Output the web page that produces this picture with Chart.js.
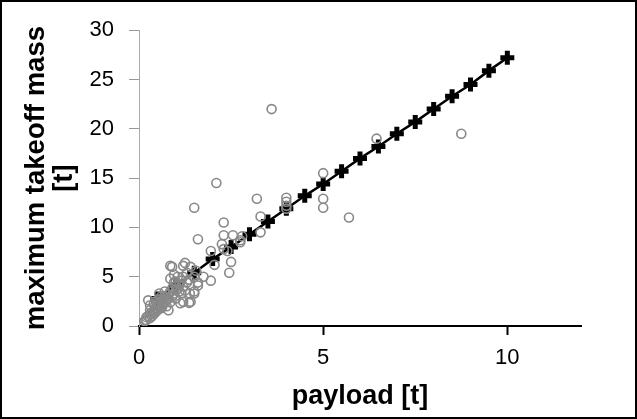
<!DOCTYPE html>
<html>
<head>
    <title>Payload vs maximum takeoff mass</title>
    <script src="https://cdn.jsdelivr.net/npm/chart.js"></script>
    <style>
        body { margin: 0; background: #fff; }
        #frame { width: 637px; height: 419px; box-sizing: border-box; border: 2px solid #000; }
        canvas { display: block; }
    </style>
</head>
<body>
<div id="frame"><canvas id="massChart" width="633" height="415"></canvas></div>
<script>
    // aircraft data (grey circles)
    const payloadT = [
        3.6, 8.75, 6.45, 5, 5, 5, 5.7, 4, 4, 4, 4, 2.1, 1.5, 3.2, 3.3, 2.3, 2.3, 2.55, 2.8, 3.3,
        1.6, 2.75, 2.25, 1.95, 2.4, 2.5, 2.05, 2.45, 1.95, 1.25, 1.55, 0.9, 1.6, 1.35, 0.85, 1.2,
        1.4, 0.85, 1.05, 1.5, 1.5, 1.4, 1.2, 1.15, 0.55, 0.25, 0.3, 0, 0.63, 0.8, 2.3, 2.75, 1.75,
        1.6, 1.38, 1.12, 1.36, 1.5,
        0.1, 0.15, 0.2, 0.2, 0.25, 0.3, 0.3, 0.35, 0.35, 0.4, 0.4, 0.45, 0.45, 0.5, 0.5, 0.5,
        0.55, 0.55, 0.6, 0.6, 0.65, 0.65, 0.7, 0.7, 0.75, 0.75, 0.8, 0.8, 0.85, 0.85, 0.9, 0.9,
        0.95, 1.0, 1.0, 1.0, 1.05, 1.1, 1.1, 1.15, 1.2, 1.25, 1.3, 1.0, 0.95, 0.7, 0.6, 0.4, 0.3,
        0.55, 0.45, 1.2, 1.3, 0.95
    ];
    const mtomT = [
        22, 19.5, 19, 15.5, 12.9, 12, 11, 13, 12.6, 12.2, 11.9, 14.5, 12, 12.9, 11.1, 10.5, 9.2, 9.2, 9.1, 9.5,
        8.8, 8.5, 8.3, 7.6, 7.6, 6.5, 6.2, 5.4, 4.6, 6.4, 5.6, 6.0, 4.4, 4.7, 6.1, 6.1,
        6.0, 4.8, 5.0, 5.0, 3.5, 2.45, 2.45, 3.3, 3.3, 2.6, 2.1, 0, 1.95, 1.6, 7.8, 8.7, 5.0,
        4.1, 3.3, 2.3, 2.35, 3.3,
        0.3, 0.5, 0.6, 0.9, 1.0, 0.8, 1.2, 1.4, 1.0, 1.5, 1.2, 1.8, 1.4, 2.0, 1.6, 2.4,
        1.9, 2.2, 2.5, 1.8, 2.2, 2.8, 2.4, 3.0, 2.6, 2.0, 3.2, 2.8, 3.5, 2.4, 3.0, 3.8,
        3.3, 3.6, 4.0, 2.8, 3.8, 4.2, 3.5, 4.6, 4.0, 3.6, 4.4, 4.5, 4.4, 3.5, 3.0, 2.2, 1.6,
        2.7, 2.5, 5.0, 5.4, 5.2
    ];

    // fitted line (black crosses)
    const fitPayload = [0.5, 1, 1.5, 2, 2.5, 3, 3.5, 4, 4.5, 5, 5.5, 6, 6.5, 7, 7.5, 8, 8.5, 9, 9.5, 10];
    const fitMtom = [2.8, 4.1, 5.4, 6.8, 8.0, 9.3, 10.6, 11.9, 13.2, 14.4, 15.7, 17.0, 18.2, 19.5, 20.7, 22.0, 23.3, 24.5, 25.9, 27.2];

    const xTicks = [0, 5, 10];
    const yTicks = [0, 5, 10, 15, 20, 25, 30];

    const font = 'Liberation Sans, Arial, sans-serif';

    const ctx = document.getElementById('massChart').getContext('2d');
    new Chart(ctx, {
        type: 'scatter',
        data: {
            datasets: [{
                label: 'aircraft',
                data: payloadT.map((x, i) => ({ x: x, y: mtomT[i] })),
                pointStyle: 'circle',
                pointRadius: 4.5,
                borderWidth: 1.6,
                borderColor: '#888888',
                backgroundColor: 'rgba(0,0,0,0)',
                order: 1
            }, {
                label: 'fit',
                data: fitPayload.map((x, i) => ({ x: x, y: fitMtom[i] })),
                showLine: true,
                pointStyle: 'cross',
                pointRadius: 7,
                pointBorderWidth: 5,
                borderWidth: 2.5,
                borderColor: '#000',
                backgroundColor: '#000',
                order: 2
            }]
        },
        options: {
            responsive: false,
            animation: false,
            layout: { padding: { top: 27, right: 54, left: 0, bottom: 0 } },
            plugins: { legend: { display: false }, tooltip: { enabled: false } },
            scales: {
                x: {
                    type: 'linear',
                    min: 0,
                    max: 12,
                    afterBuildTicks: s => { s.ticks = xTicks.map(v => ({ value: v })); },
                    afterFit: s => { s.height = 91; },
                    border: { color: '#000', width: 2 },
                    grid: { drawOnChartArea: false, color: '#000', tickColor: '#000', tickWidth: 2, tickLength: 9 },
                    ticks: { color: '#000', padding: 10, maxRotation: 0, font: { family: font, size: 22 } },
                    title: {
                        display: true,
                        text: 'payload [t]',
                        color: '#000',
                        padding: { top: 0, bottom: 4 },
                        font: { family: font, size: 27, weight: 'bold' }
                    }
                },
                y: {
                    type: 'linear',
                    min: 0,
                    max: 30,
                    afterBuildTicks: s => { s.ticks = yTicks.map(v => ({ value: v })); },
                    afterFit: s => { s.width = 137; },
                    border: { color: '#aaa', width: 1 },
                    grid: { drawOnChartArea: false, tickColor: '#999', tickLength: 10 },
                    ticks: { color: '#000', padding: 15, font: { family: font, size: 22 } },
                    title: {
                        display: true,
                        text: ['maximum takeoff mass', '[t]'],
                        color: '#000',
                        padding: { top: 21, bottom: 0 },
                        font: { family: font, size: 27.5, weight: 'bold', lineHeight: 1.0 }
                    }
                }
            }
        }
    });
</script>
</body>
</html>
